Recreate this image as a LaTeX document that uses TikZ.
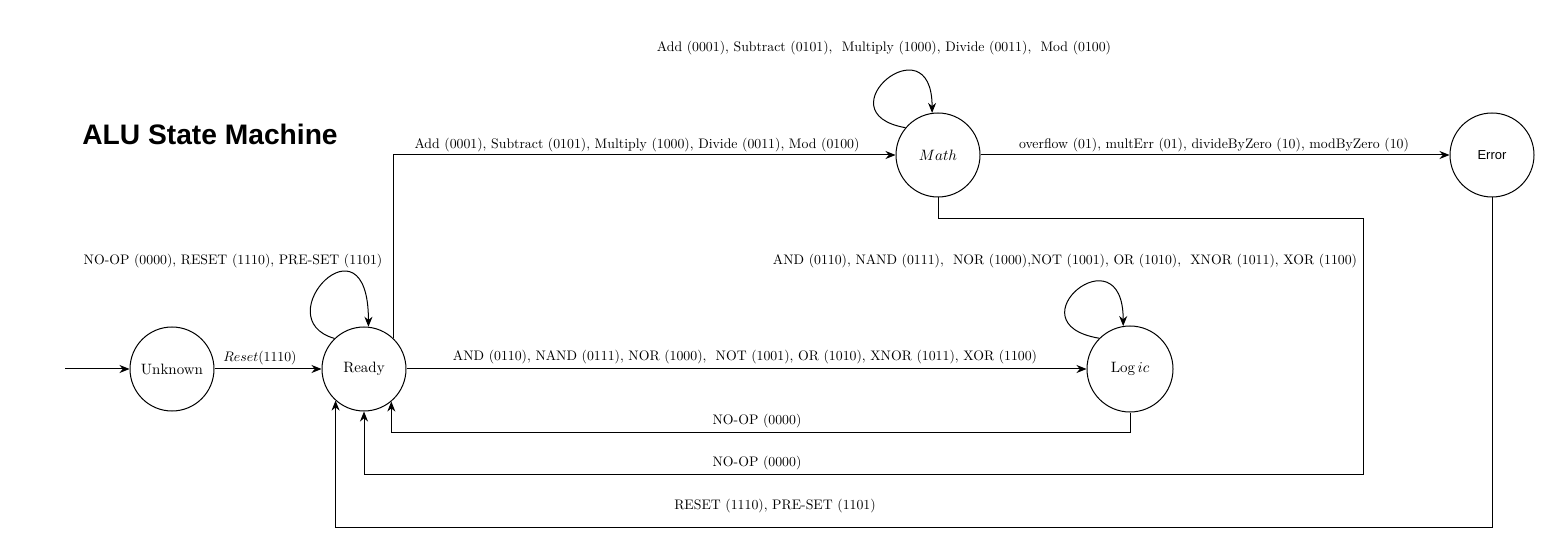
\documentclass[tikz,border=0pt]{standalone}
\usepackage{fontspec}
\usepackage{graphicx}
\setsansfont{Liberation Sans}
\usetikzlibrary{shapes,arrows,positioning,calc}
\usetikzlibrary{arrows.meta}
\newcommand{\malo}[1]{\scalebox{0.69}{#1}}
\newcommand{\srednje}[1]{\scalebox{0.75}{#1}}
\tikzset{
	stanje/.style={draw,circle,line width=0.5pt,inner sep=0pt,minimum size=42pt},
	oznaka/.style={inner sep=0pt},
	veza/.style={line width=0.5pt,-{Stealth[length=5pt,width=4pt,inset=1.6pt]}}
}
\begin{document}
\begin{tikzpicture}[x=0.5pt,y=-0.5pt]
		\def\xUnknown{172}
		\def\xReady{364}
		\def\xMath{938}
		\def\xError{1492}
		\def\xLogic{1130}
		\def\yRed{369}
		\def\yGore{155}
		\def\xStart{65}
		\def\xMathNazad{1363}
		\def\yMathNazad{474}

\useasboundingbox (0,0) rectangle (1562,550);

\node[font=\fontsize{14.1}{16}\selectfont\sffamily\bfseries] (naslov) at (210,134) {ALU State Machine};

\coordinate (ulaz) at (\xStart,\yRed);
\node[stanje] (Unknown) at (\xUnknown,\yRed) {\srednje{Unknown}};
\node[stanje] (Ready) at (\xReady,\yRed) {\srednje{Ready}};
\node[stanje] (Math) at (\xMath,\yGore) {\srednje{$Math$}};
\node[stanje,font=\fontsize{6.5}{8}\selectfont\sffamily] (Error) at (\xError,\yGore) {Error};
\node[stanje,minimum size=43pt] (Logic) at (\xLogic,\yRed) {\srednje{Log\,$ic$}};
\coordinate (mathNazad) at (\xMathNazad,\yMathNazad);

\node[oznaka] (lblReset) at (260,358) {\malo{$Reset$(1110)}};
\node[oznaka] (lblReadyPetlja) at (233,261) {\malo{NO-OP (0000), RESET (1110), PRE-SET (1101)}};
\node[oznaka] (lblReadyMath) at (637,145) {\malo{Add (0001), Subtract (0101), Multiply (1000), Divide (0011), Mod (0100)}};
\node[oznaka] (lblMathPetlja) at (884,48) {\malo{Add (0001), Subtract (0101), \ Multiply (1000), Divide (0011), \ Mod (0100)}};
\node[oznaka] (lblMathError) at (1214,145) {\malo{overflow (01), multErr (01), divideByZero (10), modByZero (10)}};
\node[oznaka] (lblLogicPetlja) at (1065,261) {\malo{AND (0110), NAND (0111), \ NOR (1000),NOT (1001), OR (1010), \ XNOR (1011), XOR (1100)}};
\node[oznaka] (lblReadyLogic) at (745,357) {\malo{AND (0110), NAND (0111), NOR (1000), \ NOT (1001), OR (1010), XNOR (1011), XOR (1100)}};
\node[oznaka] (lblLogicReady) at (757,421) {\malo{NO-OP (0000)}};
\node[oznaka] (lblMathReady) at (757,463) {\malo{NO-OP (0000)}};
\node[oznaka] (lblErrorReady) at (775,506) {\malo{RESET (1110), PRE-SET (1101)}};

\draw[veza] (ulaz) -- (Unknown);
\draw[veza] (Unknown) -- (Ready);
\draw[veza] (Ready.134) .. controls +(-70,-20) and +(0,-118) .. (Ready.84);
\draw[veza] (Ready.46) |- (Math);
\draw[veza] (Math.140) .. controls +(-85,-15) and +(0,-93) .. (Math.98);
\draw[veza] (Math) -- (Error);
\draw[veza] (Ready) -- (Logic);
\draw[veza] (Logic.135) .. controls +(-90,-15) and +(0,-97) .. (Logic.99);
\draw[veza] (Logic.south) -- ++(0,20) -| (Ready.310);
\draw[veza] (Math.south) -- ++(0,21) -| (mathNazad) -| (Ready.south);
\draw[veza] (Error.south) -- ++(0,330) -| (Ready.228);

\end{tikzpicture}
\end{document}
